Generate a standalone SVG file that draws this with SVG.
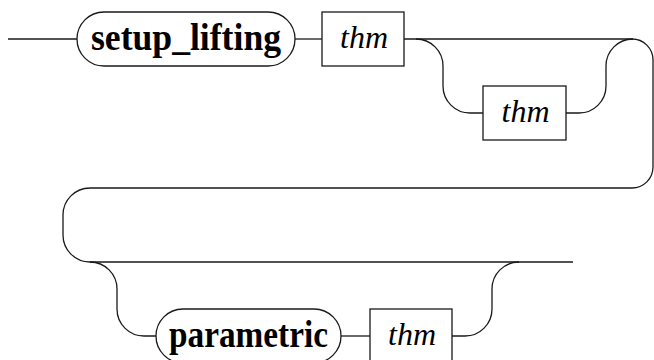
<svg xmlns="http://www.w3.org/2000/svg" width="654" height="360" viewBox="0 0 654 360">
<style>
.c{fill:none;stroke:#1a1a1a;stroke-width:1.3}
.b{fill:#fff;stroke:#1a1a1a;stroke-width:1.3}
.kw{font-family:'Liberation Serif','DejaVu Serif',serif;font-weight:bold;font-size:37px;fill:#000}
.nt{font-family:'Liberation Serif','DejaVu Serif',serif;font-style:italic;font-size:32px;fill:#000}
</style>
<rect width="654" height="360" fill="#fff"/>
<g id="connectors">
<path class="c" d="M8,39 H77"/>
<path class="c" d="M295,39 H322"/>
<path class="c" d="M404,39 H632 A21,21 0 0 1 653,60 V167 A21,21 0 0 1 632,188 H90 A27,27 0 0 0 63,215 V235 A27,27 0 0 0 90,262 H573"/>
<path class="c" d="M416,39 A27,27 0 0 1 443,66 V86 A27,27 0 0 0 470,113 H483"/>
<path class="c" d="M566,113 H579 A27,27 0 0 0 606,86 V66 A27,27 0 0 1 633,39"/>
<path class="c" d="M90,262 A27,27 0 0 1 117,289 V309 A27,27 0 0 0 144,336 H156"/>
<path class="c" d="M341,336 H370"/>
<path class="c" d="M452,336 H465 A27,27 0 0 0 492,309 V289 A27,27 0 0 1 519,262"/>
</g>
<g id="setup_lifting">
<rect class="b" x="77" y="12" width="218" height="54" rx="27" ry="27"/>
<text class="kw" x="186" y="50" text-anchor="middle" textLength="190" lengthAdjust="spacingAndGlyphs">setup_lifting</text>
</g>
<g id="thm1">
<rect class="b" x="322" y="12" width="82" height="54"/>
<text class="nt" x="364" y="48" text-anchor="middle" textLength="48" lengthAdjust="spacingAndGlyphs">thm</text>
</g>
<g id="thm2">
<rect class="b" x="483" y="86" width="83" height="54"/>
<text class="nt" x="525.5" y="122" text-anchor="middle" textLength="48" lengthAdjust="spacingAndGlyphs">thm</text>
</g>
<g id="parametric">
<rect class="b" x="156" y="309" width="185" height="54" rx="27" ry="27"/>
<text class="kw" x="248.5" y="347" text-anchor="middle" textLength="159" lengthAdjust="spacingAndGlyphs">parametric</text>
</g>
<g id="thm3">
<rect class="b" x="370" y="309" width="82" height="54"/>
<text class="nt" x="412" y="345" text-anchor="middle" textLength="48" lengthAdjust="spacingAndGlyphs">thm</text>
</g>
</svg>
